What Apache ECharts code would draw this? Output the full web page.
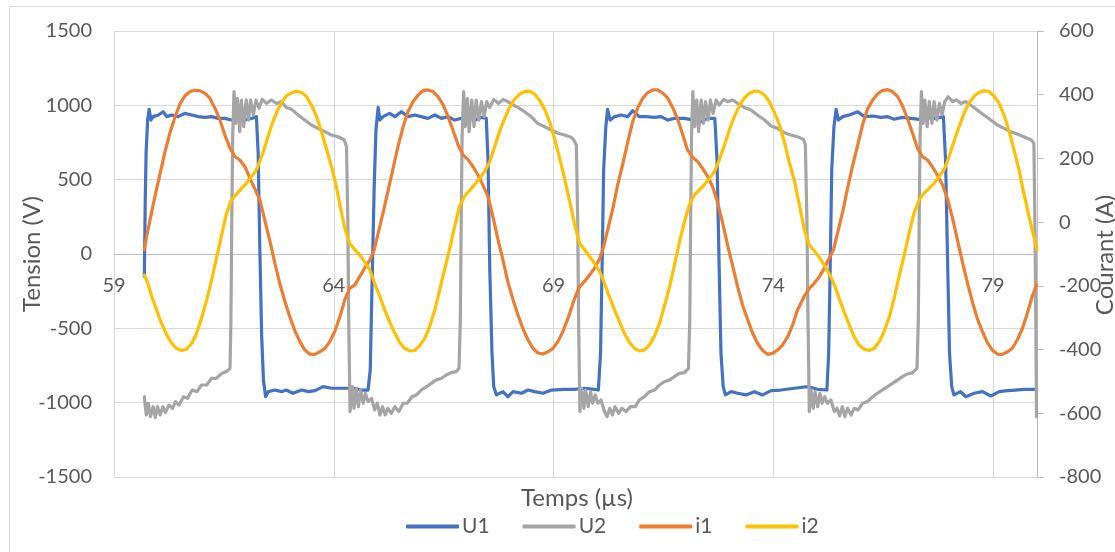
<!DOCTYPE html>
<html><head><meta charset="utf-8">
<script src="https://cdn.jsdelivr.net/npm/echarts@6/dist/echarts.min.js"></script>
<style>html,body{margin:0;padding:0;background:#fff}#c{width:1115px;height:552px}</style>
</head><body><div id="c"></div>
<script>
// Axis ranges (time in µs, tension in V, courant in A)
const X_MIN = 59, X_MAX = 80, X_STEP = 5;
const V_MIN = -1500, V_MAX = 1500, V_STEP = 500;
const A_MIN = -800, A_MAX = 600, A_STEP = 200;
const SERIES_NAMES = ['U1', 'U2', 'i1', 'i2'];

// U1 : [time µs, tension V]
const U1 = [
[59.69,-152],[59.71,341],[59.73,677],[59.765,901],[59.80,973],[59.84,901],[59.89,924],
[60.01,935],[60.12,957],[60.20,924],[60.31,935],[60.46,924],[60.61,946],[60.77,935],[60.92,924],[61.07,919],[61.22,924],[61.37,912],[61.52,912],[61.67,901],[61.83,912],[61.98,901],[62.13,912],[62.24,924],
[62.28,677],[62.32,4],[62.36,-556],[62.40,-847],[62.45,-960],[62.51,-926],
[62.66,-915],[62.81,-926],[62.92,-915],[63.07,-937],[63.27,-915],[63.42,-926],[63.57,-919],[63.76,-892],[63.95,-903],[64.21,-903],[64.48,-903],[64.63,-915],[64.78,-915],
[64.83,-780],[64.87,-220],[64.92,453],[64.96,834],[65.01,986],[65.05,901],[65.12,924],
[65.27,946],[65.39,924],[65.54,957],[65.69,924],[65.84,935],[65.99,924],[66.14,912],[66.30,935],[66.45,912],[66.60,924],[66.75,901],[66.90,912],[67.05,924],[67.21,901],[67.36,919],[67.47,912],
[67.51,632],[67.55,-108],[67.60,-668],[67.64,-892],[67.70,-948],
[67.85,-926],[67.96,-960],[68.08,-926],[68.27,-937],[68.42,-915],[68.57,-926],[68.76,-937],[68.95,-915],[69.25,-910],[69.48,-910],[69.70,-903],[69.93,-910],[70.02,-915],
[70.07,-668],[70.11,4],[70.14,565],[70.19,856],[70.23,973],[70.29,901],[70.39,924],
[70.54,935],[70.69,924],[70.80,964],[70.95,924],[71.11,924],[71.30,919],[71.45,924],[71.60,901],[71.75,912],[71.98,912],[72.20,901],[72.36,890],[72.51,912],[72.67,912],
[72.72,632],[72.77,-108],[72.81,-668],[72.86,-892],[72.91,-948],
[73.04,-926],[73.19,-937],[73.38,-948],[73.57,-926],[73.76,-948],[73.95,-919],[74.17,-915],[74.48,-903],[74.78,-892],[75.01,-910],[75.22,-915],
[75.26,-668],[75.30,4],[75.33,565],[75.38,856],[75.43,973],[75.48,901],[75.58,924],
[75.73,935],[75.92,957],[76.07,924],[76.26,928],[76.45,919],[76.60,924],[76.75,906],[76.94,919],[77.13,912],[77.32,906],[77.51,919],[77.70,912],[77.87,924],
[77.92,632],[77.97,-108],[78.01,-668],[78.06,-892],[78.11,-948],
[78.26,-926],[78.38,-960],[78.57,-937],[78.76,-926],[78.95,-955],[79.14,-926],[79.33,-919],[79.51,-915],[79.70,-910],[79.95,-910]
];

// U2 : [time µs, tension V]
const U2 = [
[59.69,-960],[59.735,-1083],[59.78,-1004],[59.83,-1094],[59.89,-1027],[59.94,-1099],[59.99,-1027],[60.05,-1083],[60.11,-1027],[60.17,-1067],[60.25,-1016],[60.33,-1038],[60.40,-993],[60.48,-1016],[60.58,-960],[60.67,-971],[60.78,-915],[60.89,-926],[60.99,-881],[61.11,-881],[61.22,-836],[61.33,-836],[61.45,-803],[61.56,-791],[61.64,-769],
[61.66,-444],[61.68,229],[61.70,789],[61.73,1092],
[61.77,879],[61.81,1047],[61.86,823],[61.90,1036],[61.95,856],[62.01,1036],[62.06,901],[62.11,1036],[62.17,935],[62.23,1036],[62.30,980],[62.37,1040],[62.47,1013],[62.58,1036],[62.70,1013],[62.81,1025],[62.92,986],[63.04,973],[63.19,935],[63.34,901],[63.49,868],[63.64,845],[63.80,823],[63.95,800],[64.10,789],[64.24,767],[64.29,722],
[64.32,229],[64.34,-444],[64.37,-1060],
[64.42,-892],[64.46,-1038],[64.51,-903],[64.56,-1027],[64.61,-915],[64.67,-1004],[64.72,-937],[64.78,-993],[64.86,-971],[64.93,-1049],[64.99,-1004],[65.05,-1083],[65.11,-1027],[65.17,-1083],[65.23,-1038],[65.31,-1072],[65.39,-1027],[65.48,-1060],[65.58,-1004],[65.67,-1004],[65.78,-960],[65.88,-948],[65.99,-915],[66.11,-892],[66.22,-870],[66.33,-847],[66.45,-836],[66.56,-814],[66.67,-798],[66.79,-791],[66.85,-769],
[66.88,-444],[66.90,229],[66.92,789],[66.955,1092],
[66.99,856],[67.04,1047],[67.08,823],[67.14,1036],[67.19,856],[67.24,1036],[67.30,901],[67.36,1025],[67.42,924],[67.48,1025],[67.55,986],[67.64,1040],[67.75,1013],[67.85,1040],[67.96,1025],[68.08,1002],[68.19,986],[68.34,957],[68.49,924],[68.64,879],[68.80,856],[68.95,834],[69.10,812],[69.25,800],[69.40,785],[69.46,767],[69.52,733],
[69.55,229],[69.57,-444],[69.60,-1060],
[69.64,-903],[69.69,-1038],[69.73,-915],[69.79,-1027],[69.84,-926],[69.89,-1004],[69.95,-948],[70.01,-1004],[70.08,-982],[70.16,-1060],[70.22,-1094],[70.28,-1038],[70.34,-1083],[70.40,-1027],[70.48,-1072],[70.55,-1038],[70.65,-1060],[70.75,-1027],[70.86,-1027],[70.95,-982],[71.07,-960],[71.18,-926],[71.30,-915],[71.41,-881],[71.52,-859],[71.64,-847],[71.75,-825],[71.86,-803],[71.98,-798],[72.07,-769],
[72.10,-444],[72.12,229],[72.14,789],[72.17,1092],
[72.21,856],[72.26,1036],[72.30,823],[72.36,1036],[72.41,879],[72.46,1025],[72.52,901],[72.57,1036],[72.63,946],[72.70,1036],[72.77,1002],[72.87,1040],[72.96,1025],[73.08,1036],[73.19,1013],[73.34,986],[73.49,969],[73.64,935],[73.80,901],[73.95,861],[74.10,845],[74.25,816],[74.40,800],[74.55,789],[74.69,771],[74.73,733],
[74.765,229],[74.79,-444],[74.82,-1060],
[74.86,-915],[74.91,-1038],[74.95,-926],[75.01,-1027],[75.06,-937],[75.11,-1004],[75.17,-960],[75.23,-1004],[75.31,-982],[75.39,-1060],[75.45,-1038],[75.51,-1089],[75.57,-1027],[75.63,-1094],[75.69,-1038],[75.77,-1083],[75.84,-1038],[75.93,-1049],[76.03,-1004],[76.14,-993],[76.26,-960],[76.37,-937],[76.48,-915],[76.60,-892],[76.71,-870],[76.83,-847],[76.94,-825],[77.05,-807],[77.17,-798],[77.27,-769],
[77.30,-444],[77.32,229],[77.34,789],[77.37,1092],
[77.41,879],[77.45,1036],[77.50,856],[77.55,1025],[77.61,879],[77.66,1025],[77.72,901],[77.78,1013],[77.84,935],[77.90,1025],[77.98,1058],[78.08,1025],[78.17,1036],[78.27,1013],[78.38,1025],[78.49,1002],[78.64,969],[78.79,935],[78.95,901],[79.10,868],[79.25,845],[79.40,823],[79.55,807],[79.70,789],[79.87,767],[79.93,745],[79.96,4],[79.99,-1094]
];

// i1 : [time µs, courant A]
const I1 = [
[59.69,-87],[59.74,-46],[59.82,7],[59.93,80],[60.05,153],[60.16,221],[60.27,279],[60.39,331],[60.50,371],[60.61,396],[60.73,410],[60.84,414],[60.95,413],[61.07,404],[61.18,389],[61.30,357],[61.41,321],[61.52,274],[61.64,232],[61.75,206],[61.86,195],[61.98,174],[62.09,138],[62.20,106],[62.32,69],[62.43,7],[62.55,-61],[62.66,-129],[62.77,-192],[62.89,-250],[63.00,-297],[63.11,-339],[63.23,-375],[63.34,-401],[63.45,-414],[63.57,-415],[63.68,-407],[63.80,-396],[63.91,-375],[64.02,-344],[64.14,-297],[64.25,-244],[64.36,-208],[64.48,-197],[64.59,-171],[64.70,-145],[64.82,-119],[64.92,-87],[65.01,-35],[65.12,28],[65.24,101],[65.35,169],[65.46,237],[65.58,300],[65.69,347],[65.80,378],[65.92,399],[66.03,413],[66.14,415],[66.26,410],[66.37,394],[66.49,368],[66.60,331],[66.71,289],[66.83,242],[66.94,211],[67.05,197],[67.17,174],[67.28,148],[67.39,117],[67.51,80],[67.62,17],[67.73,-51],[67.85,-119],[67.96,-187],[68.08,-244],[68.19,-291],[68.30,-333],[68.42,-370],[68.53,-396],[68.64,-410],[68.76,-414],[68.87,-407],[68.99,-396],[69.10,-375],[69.21,-344],[69.33,-302],[69.48,-239],[69.59,-203],[69.70,-187],[69.82,-166],[69.93,-145],[70.05,-114],[70.14,-77],[70.23,-25],[70.35,43],[70.46,117],[70.58,185],[70.69,253],[70.80,315],[70.92,360],[71.03,389],[71.14,406],[71.26,415],[71.37,415],[71.48,406],[71.60,389],[71.71,360],[71.83,321],[71.94,274],[72.05,226],[72.17,203],[72.28,190],[72.39,169],[72.51,143],[72.62,111],[72.73,64],[72.85,-4],[72.96,-72],[73.08,-140],[73.19,-203],[73.30,-260],[73.42,-307],[73.53,-349],[73.64,-380],[73.76,-403],[73.87,-415],[73.98,-412],[74.10,-401],[74.21,-386],[74.33,-359],[74.44,-323],[74.55,-276],[74.70,-234],[74.82,-208],[74.93,-192],[75.05,-171],[75.16,-145],[75.27,-114],[75.37,-87],[75.46,-35],[75.58,33],[75.69,106],[75.80,174],[75.92,242],[76.03,305],[76.14,354],[76.26,383],[76.37,402],[76.48,413],[76.60,416],[76.71,410],[76.83,394],[76.94,365],[77.05,326],[77.17,279],[77.28,232],[77.39,206],[77.51,195],[77.62,174],[77.73,148],[77.85,117],[77.96,75],[78.08,12],[78.19,-56],[78.30,-124],[78.42,-192],[78.53,-250],[78.64,-302],[78.76,-344],[78.87,-378],[78.98,-401],[79.10,-414],[79.21,-415],[79.33,-407],[79.44,-396],[79.55,-370],[79.67,-333],[79.78,-286],[79.89,-234],[79.99,-197]
];

// i2 : [time µs, courant A]
const I2 = [
[59.69,-166],[59.77,-192],[59.86,-234],[59.97,-276],[60.08,-318],[60.20,-354],[60.31,-380],[60.42,-396],[60.54,-403],[60.65,-399],[60.77,-380],[60.88,-349],[60.99,-302],[61.11,-244],[61.22,-182],[61.33,-114],[61.45,-40],[61.56,28],[61.67,70],[61.79,88],[61.90,106],[62.01,122],[62.13,143],[62.24,164],[62.36,206],[62.47,253],[62.58,302],[62.70,344],[62.81,375],[62.92,396],[63.04,406],[63.15,411],[63.27,407],[63.38,394],[63.49,368],[63.61,331],[63.72,284],[63.83,232],[63.95,174],[64.06,111],[64.14,54],[64.25,-19],[64.36,-66],[64.48,-87],[64.59,-103],[64.70,-124],[64.82,-150],[64.93,-192],[65.05,-234],[65.16,-276],[65.27,-312],[65.39,-349],[65.50,-378],[65.61,-396],[65.73,-404],[65.84,-403],[65.95,-389],[66.07,-365],[66.18,-328],[66.30,-276],[66.41,-213],[66.52,-150],[66.64,-82],[66.75,-14],[66.86,49],[66.98,82],[67.09,99],[67.20,117],[67.32,138],[67.43,158],[67.55,190],[67.66,237],[67.77,284],[67.89,326],[68.00,360],[68.11,385],[68.23,402],[68.34,410],[68.45,411],[68.57,402],[68.68,383],[68.80,354],[68.91,315],[69.02,263],[69.14,200],[69.25,138],[69.36,70],[69.48,-6],[69.59,-66],[69.70,-85],[69.82,-108],[69.93,-129],[70.05,-155],[70.16,-192],[70.27,-234],[70.39,-276],[70.50,-312],[70.61,-349],[70.73,-378],[70.84,-396],[70.95,-404],[71.07,-401],[71.18,-386],[71.30,-357],[71.41,-318],[71.52,-265],[71.64,-203],[71.75,-135],[71.86,-66],[71.98,2],[72.09,54],[72.20,85],[72.32,101],[72.43,117],[72.55,138],[72.66,158],[72.77,195],[72.89,242],[73.00,289],[73.11,331],[73.23,365],[73.34,389],[73.45,404],[73.57,411],[73.68,410],[73.80,399],[73.91,378],[74.02,347],[74.14,305],[74.25,253],[74.36,190],[74.48,130],[74.59,56],[74.70,-20],[74.82,-72],[74.93,-90],[75.05,-111],[75.16,-135],[75.27,-161],[75.39,-197],[75.50,-239],[75.61,-281],[75.73,-323],[75.84,-359],[75.95,-386],[76.07,-399],[76.18,-403],[76.30,-396],[76.41,-375],[76.52,-344],[76.64,-297],[76.75,-239],[76.86,-171],[76.98,-103],[77.09,-35],[77.20,28],[77.32,70],[77.43,91],[77.55,106],[77.66,122],[77.77,143],[77.89,166],[78.00,206],[78.11,253],[78.23,300],[78.34,342],[78.45,373],[78.57,396],[78.68,407],[78.79,412],[78.91,410],[79.02,396],[79.14,373],[79.25,336],[79.36,289],[79.48,226],[79.59,164],[79.70,91],[79.82,17],[79.93,-46],[80.00,-87]
];

const FONT = 'Lato, "Open Sans", sans-serif';
const LABEL = '#595959';
const COLORS = ['#4472C4', '#A5A5A5', '#ED7D31', '#FFC000'];
const GRID = { left: 114, right: 78, top: 31, bottom: 75 };
const PLOT_H = 552 - GRID.top - GRID.bottom;
// x axis drawn through V = 0 of the left axis (Excel-style crossing)
const X_AXIS_OFFSET = -PLOT_H * (0 - V_MIN) / (V_MAX - V_MIN);
const shift = d => d.map(p => [p[0] - X_MIN, p[1]]);
const DATA = [U1, U2, I1, I2];

const chart = echarts.init(document.getElementById('c'), null, { renderer: 'canvas' });
chart.setOption({
  animation: false,
  backgroundColor: '#fff',
  textStyle: { fontFamily: FONT },
  grid: Object.assign({ containLabel: false }, GRID),
  graphic: [
    { type: 'rect', z: -10, silent: true, shape: { x: 9.5, y: 6.5, width: 1300, height: 700 },
      style: { fill: 'none', stroke: '#d9d9d9', lineWidth: 1 } },
    { type: 'text', x: 32, y: 254, rotation: Math.PI / 2,
      style: { text: 'Tension (V)', fontFamily: FONT, fontSize: 24, fill: LABEL, align: 'center', verticalAlign: 'middle' } },
    { type: 'text', x: 1105, y: 255, rotation: Math.PI / 2,
      style: { text: 'Courant (A)', fontFamily: FONT, fontSize: 24, fill: LABEL, align: 'center', verticalAlign: 'middle' } },
    { type: 'text', x: 577, y: 498,
      style: { text: 'Temps (µs)', fontFamily: FONT, fontSize: 24, fill: LABEL, align: 'center', verticalAlign: 'middle' } }
  ],
  legend: {
    data: SERIES_NAMES, left: 401, top: 511, icon: 'roundRect',
    itemWidth: 53, itemHeight: 4, itemGap: 33,
    textStyle: { fontFamily: FONT, fontSize: 21, color: LABEL, padding: [0, 0, 0, -2] }
  },
  xAxis: {
    type: 'value', min: 0, max: X_MAX - X_MIN, interval: X_STEP,
    position: 'bottom', offset: X_AXIS_OFFSET,
    axisLine: { show: true, onZero: false, lineStyle: { color: '#bfbfbf', width: 1 } },
    axisTick: { show: false },
    axisLabel: { margin: 22, fontSize: 20, color: LABEL, fontFamily: FONT,
      showMaxLabel: false, showMinLabel: true, formatter: v => String(v + X_MIN) },
    splitLine: { show: true, lineStyle: { color: '#d9d9d9', width: 1 } }
  },
  yAxis: [
    { type: 'value', min: V_MIN, max: V_MAX, interval: V_STEP, position: 'left',
      axisLine: { show: false }, axisTick: { show: false },
      axisLabel: { margin: 22, fontSize: 20, color: LABEL, fontFamily: FONT, formatter: v => String(v) },
      splitLine: { show: true, lineStyle: { color: '#d9d9d9', width: 1 } } },
    { type: 'value', min: A_MIN, max: A_MAX, interval: A_STEP, position: 'right',
      axisLine: { show: true, onZero: false, lineStyle: { color: '#bfbfbf', width: 1 } },
      axisTick: { show: true, inside: false, length: 7, lineStyle: { color: '#bfbfbf' } },
      axisLabel: { margin: 22, fontSize: 20, color: LABEL, fontFamily: FONT, formatter: v => String(v) },
      splitLine: { show: false } }
  ],
  series: SERIES_NAMES.map((name, i) => ({
    name, type: 'line', yAxisIndex: i < 2 ? 0 : 1,
    data: shift(DATA[i]), showSymbol: false, symbol: 'none', smooth: false,
    color: COLORS[i],
    lineStyle: { color: COLORS[i], width: 3.2, join: 'round', cap: 'round' },
    emphasis: { disabled: true }
  }))
});
</script>
</body></html>
